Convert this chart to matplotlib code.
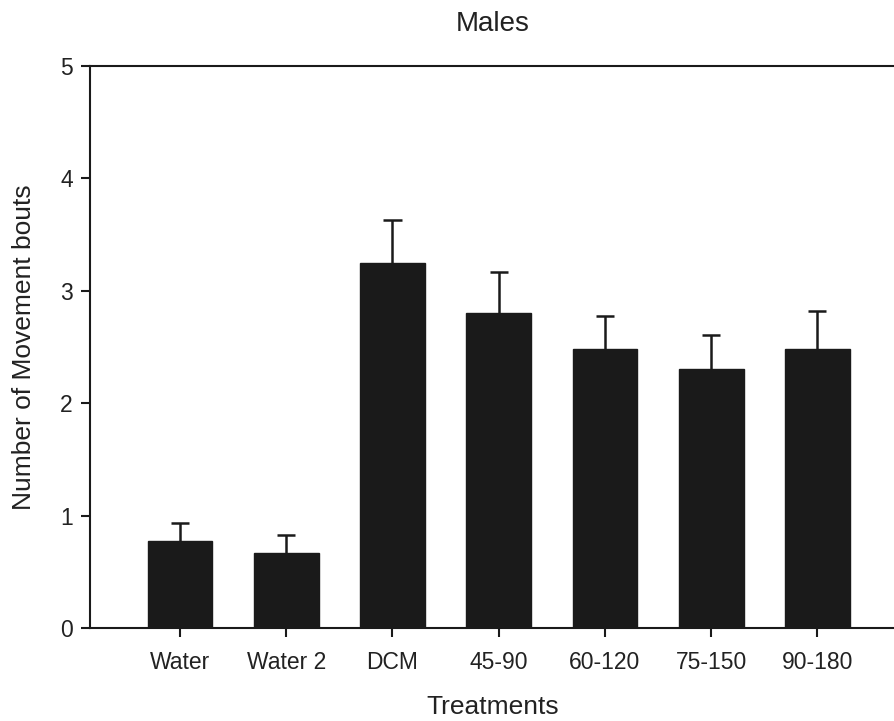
import numpy as np
import matplotlib.pyplot as plt

plt.rcParams['font.family'] = ['Liberation Sans', 'DejaVu Sans']

# данные
treatments = ['Water', 'Water 2', 'DCM', '45-90', '60-120', '75-150', '90-180']
means = [0.77, 0.67, 3.25, 2.80, 2.48, 2.30, 2.48]
upper = [0.93, 0.83, 3.63, 3.17, 2.78, 2.61, 2.82]

fig = plt.figure(figsize=(8.95, 7.21), dpi=100)
ax = fig.add_axes([90 / 895, 93 / 721, 805 / 895, 562 / 721])

x = np.arange(len(treatments))
ax.bar(x, means, width=0.61, color='#1a1a1a', edgecolor='#1a1a1a', zorder=2)
# только верхняя половина планки погрешности
ax.vlines(x, means, upper, color='#1a1a1a', linewidth=1.8, zorder=1)
ax.hlines(upper, x - 0.085, x + 0.085, color='#1a1a1a', linewidth=1.8, zorder=1)

ax.set_xlim(-0.847, 6.73)
ax.set_ylim(0, 5)
ax.set_yticks(range(6))
ax.set_xticks(x)
ax.set_xticklabels(treatments)
ax.tick_params(axis='both', direction='out', length=6.5, width=1.5, labelsize=16.5,
               colors='#1a1a1a', labelcolor='#222222')
ax.tick_params(axis='y', pad=6)
ax.tick_params(axis='x', pad=10)

for s in ['left', 'bottom', 'top']:
    ax.spines[s].set_linewidth(1.5)
    ax.spines[s].set_color('#1a1a1a')
ax.spines['right'].set_visible(False)

ax.set_xlabel('Treatments', fontsize=19, labelpad=15, color='#222222')
ax.set_ylabel('Number of Movement bouts', fontsize=19, labelpad=17, color='#222222')
ax.set_title('Males', fontsize=20, pad=25, color='#222222')

plt.savefig('out.png', dpi=100)
